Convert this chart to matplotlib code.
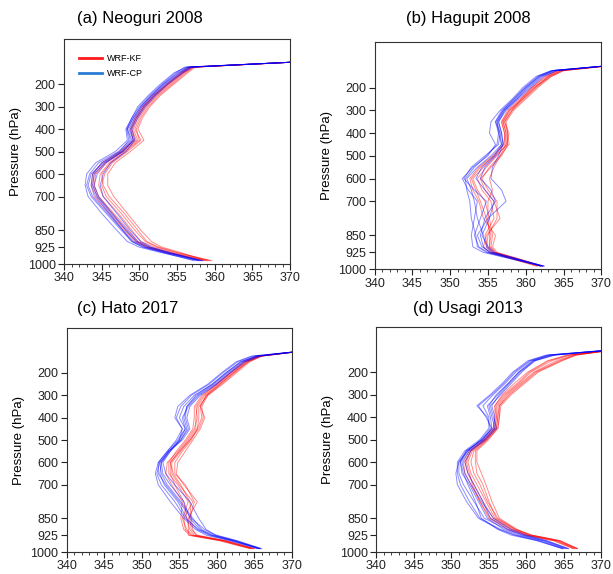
import matplotlib.pyplot as plt
from matplotlib.lines import Line2D
from matplotlib.ticker import MultipleLocator

plt.rcParams['font.family'] = ['Liberation Sans', 'DejaVu Sans']

# pressure levels of the profiles (hPa)
pres = [985, 950, 925, 900, 850, 775, 700, 650, 600, 550, 500, 450, 400, 350, 300, 250, 200, 150, 125, 100]
ptick = [200, 300, 400, 500, 600, 700, 850, 925, 1000]
titles = ["(a) Neoguri 2008", "(b) Hagupit 2008", "(c) Hato 2017", "(d) Usagi 2013"]

# equivalent potential temperature (K), one row per ensemble member
neoguri_kf = [
    [359.6, 355.0, 352.4, 350.8, 349.4, 347.6, 345.6, 345.0, 345.4, 346.4, 348.4, 350.2, 349.4, 350.0, 351.0, 352.4, 354.2, 356.0, 357.0, 372.0],
    [359.0, 354.2, 351.4, 349.8, 348.6, 346.6, 344.6, 344.0, 344.2, 345.6, 347.8, 349.6, 349.0, 349.6, 350.6, 352.0, 353.8, 355.6, 356.6, 372.0],
    [358.8, 355.6, 353.0, 351.6, 350.2, 348.4, 346.6, 345.8, 345.8, 346.8, 348.8, 350.6, 349.8, 350.4, 351.4, 352.8, 354.6, 356.4, 357.4, 372.0],
    [358.4, 353.8, 351.0, 349.4, 348.0, 346.0, 344.0, 343.6, 343.8, 345.0, 347.4, 349.2, 348.8, 349.4, 350.4, 351.8, 353.6, 355.4, 356.4, 372.0],
    [359.2, 354.6, 352.0, 350.2, 349.0, 347.2, 345.2, 344.6, 344.8, 346.0, 348.0, 349.8, 349.2, 349.8, 350.8, 352.2, 354.0, 355.8, 356.8, 372.0],
    [358.6, 354.0, 351.2, 349.6, 348.2, 346.4, 344.4, 343.8, 344.0, 345.4, 347.6, 349.4, 348.9, 349.6, 350.6, 352.0, 353.8, 355.8, 357.2, 372.0],
    [359.4, 355.2, 352.6, 351.0, 349.8, 348.0, 346.0, 345.2, 345.0, 346.2, 348.2, 350.0, 349.6, 350.2, 351.2, 352.6, 354.4, 356.2, 357.2, 372.0],
]
neoguri_cp = [
    [358.2, 353.6, 350.6, 349.0, 347.6, 345.6, 343.6, 343.0, 343.4, 344.6, 347.2, 348.8, 348.4, 349.2, 350.2, 351.6, 353.2, 355.2, 356.6, 372.0],
    [357.6, 353.0, 350.0, 348.4, 347.0, 345.0, 343.2, 342.8, 343.0, 344.2, 346.8, 348.4, 348.2, 349.0, 349.8, 351.2, 352.8, 354.6, 356.2, 372.0],
    [358.4, 354.2, 351.4, 349.8, 348.4, 346.4, 344.6, 344.0, 344.4, 345.6, 347.8, 349.2, 348.6, 349.4, 350.4, 351.8, 353.4, 355.4, 356.8, 372.0],
    [357.2, 353.2, 350.4, 349.0, 347.8, 346.0, 344.2, 343.6, 343.8, 345.0, 347.4, 348.6, 348.3, 349.0, 350.0, 351.4, 353.0, 354.8, 356.0, 372.0],
    [358.0, 354.0, 351.6, 350.2, 348.8, 347.0, 345.2, 344.8, 345.2, 346.2, 348.2, 349.4, 349.0, 349.8, 350.8, 352.2, 353.8, 355.8, 357.0, 372.0],
    [357.8, 353.4, 350.8, 349.2, 347.8, 345.8, 343.8, 343.2, 343.6, 345.2, 347.6, 349.0, 348.4, 349.2, 350.2, 351.6, 353.2, 355.0, 356.4, 372.0],
    [358.2, 353.8, 351.0, 349.6, 348.2, 346.2, 344.4, 343.8, 344.0, 345.4, 347.8, 349.2, 348.8, 349.6, 350.6, 352.0, 353.6, 355.6, 356.8, 372.0],
]
hagupit_kf = [
    [362.0, 358.6, 356.0, 355.4, 355.6, 355.2, 354.6, 353.6, 353.0, 354.4, 356.0, 357.6, 357.4, 357.0, 358.0, 359.6, 361.2, 363.0, 364.6, 372.0],
    [361.6, 358.0, 355.4, 354.8, 355.0, 356.2, 356.2, 355.0, 354.2, 355.2, 356.6, 357.8, 357.6, 357.2, 358.2, 359.8, 361.4, 363.2, 364.8, 372.0],
    [362.2, 358.8, 356.2, 355.6, 356.0, 354.4, 353.8, 353.0, 352.6, 353.8, 355.6, 357.2, 357.2, 356.8, 357.6, 359.2, 360.8, 362.8, 364.2, 372.0],
    [361.8, 358.2, 355.6, 355.0, 354.6, 355.8, 355.4, 354.2, 353.6, 354.8, 356.2, 357.4, 357.8, 357.2, 358.2, 359.4, 361.0, 363.4, 365.0, 372.0],
    [362.0, 358.4, 355.8, 355.2, 355.4, 354.8, 354.0, 353.4, 352.8, 354.0, 355.8, 357.0, 357.4, 357.0, 357.8, 359.4, 360.8, 362.6, 364.2, 372.0],
    [361.4, 357.8, 355.2, 354.4, 354.8, 356.6, 355.8, 354.6, 354.0, 355.4, 356.8, 357.6, 357.6, 357.4, 358.4, 360.0, 361.6, 363.4, 365.0, 372.0],
    [362.2, 358.6, 356.0, 355.2, 355.2, 355.0, 355.0, 355.6, 355.2, 355.8, 356.6, 357.4, 357.2, 356.8, 357.8, 359.6, 361.2, 363.0, 364.6, 372.0],
]
hagupit_cp = [
    [362.4, 358.0, 355.0, 353.8, 353.2, 354.0, 354.8, 353.2, 351.8, 352.8, 354.6, 356.4, 356.6, 356.2, 357.0, 358.6, 360.0, 361.8, 363.6, 372.0],
    [362.2, 357.6, 354.4, 353.0, 352.8, 353.2, 353.6, 352.4, 351.6, 353.0, 355.0, 356.0, 355.2, 355.4, 356.6, 358.2, 359.6, 361.4, 363.4, 372.0],
    [362.4, 358.4, 355.4, 354.2, 353.6, 355.0, 357.4, 356.8, 355.4, 355.6, 356.4, 357.0, 356.8, 356.4, 357.2, 358.8, 360.2, 362.0, 363.8, 372.0],
    [362.0, 358.2, 355.6, 354.8, 354.4, 353.6, 353.2, 352.8, 352.2, 353.6, 355.4, 356.8, 356.6, 356.0, 356.8, 358.4, 359.8, 361.6, 363.4, 372.0],
    [362.4, 358.6, 355.8, 355.0, 354.2, 355.2, 355.8, 354.6, 353.4, 354.2, 355.8, 356.8, 356.4, 356.2, 357.2, 358.8, 360.4, 362.2, 364.0, 372.0],
    [362.2, 357.8, 354.8, 353.6, 353.4, 352.8, 352.6, 352.2, 352.0, 353.2, 354.8, 356.2, 356.4, 356.0, 357.0, 358.4, 360.0, 361.8, 363.6, 372.0],
    [362.0, 358.2, 355.2, 354.4, 354.0, 354.6, 356.0, 355.4, 354.0, 354.6, 356.0, 357.0, 356.8, 356.4, 357.4, 359.0, 360.6, 362.4, 364.2, 372.0],
]
hato_kf = [
    [364.8, 361.0, 356.6, 355.8, 355.6, 356.8, 355.0, 354.0, 354.0, 355.2, 356.4, 357.6, 358.2, 358.0, 358.8, 360.6, 362.4, 364.2, 366.0, 372.0],
    [364.4, 360.4, 356.2, 356.2, 356.2, 357.4, 355.6, 354.6, 354.8, 355.8, 356.8, 357.8, 358.4, 357.8, 358.6, 360.4, 362.2, 364.0, 365.8, 372.0],
    [365.0, 361.2, 357.0, 356.4, 356.0, 355.6, 354.4, 353.8, 353.8, 355.0, 356.2, 357.2, 357.2, 357.4, 358.4, 360.2, 362.0, 364.0, 365.6, 372.0],
    [364.6, 360.8, 356.8, 356.0, 355.4, 356.2, 354.8, 353.6, 353.6, 354.6, 355.8, 356.8, 357.0, 357.0, 358.0, 360.0, 361.8, 363.6, 365.4, 372.0],
    [365.0, 361.4, 357.4, 356.6, 356.4, 357.0, 355.8, 354.4, 354.4, 355.4, 356.6, 357.4, 357.6, 357.6, 358.8, 360.8, 362.6, 364.4, 366.0, 372.0],
    [364.6, 360.6, 356.4, 355.6, 355.2, 355.4, 354.0, 353.2, 353.4, 354.8, 356.0, 357.0, 357.4, 357.2, 358.2, 360.0, 361.8, 363.8, 365.6, 372.0],
    [364.8, 361.0, 357.2, 356.8, 356.6, 356.4, 355.2, 354.2, 353.8, 355.0, 356.4, 357.4, 358.0, 357.8, 358.6, 360.4, 362.2, 364.2, 365.8, 372.0],
]
hato_cp = [
    [365.8, 362.4, 359.4, 357.6, 355.8, 354.4, 352.6, 352.0, 352.4, 353.6, 355.0, 355.4, 354.6, 355.2, 356.6, 359.0, 360.8, 362.8, 364.8, 372.0],
    [366.0, 362.8, 360.0, 358.4, 356.6, 355.0, 353.2, 352.2, 352.2, 353.4, 354.8, 355.8, 355.0, 355.6, 357.0, 359.4, 361.2, 363.2, 365.2, 372.0],
    [365.6, 362.0, 359.0, 357.4, 356.0, 354.8, 353.0, 352.4, 352.6, 353.8, 355.2, 356.0, 355.6, 356.0, 357.4, 359.6, 361.4, 363.4, 365.4, 372.0],
    [365.8, 362.6, 359.8, 358.6, 357.6, 356.4, 354.4, 353.2, 352.8, 353.8, 355.0, 355.8, 355.4, 356.2, 357.6, 359.8, 361.6, 363.6, 365.6, 372.0],
    [365.4, 361.8, 358.6, 357.2, 355.6, 353.8, 352.2, 351.8, 352.2, 353.4, 354.6, 355.4, 354.4, 354.8, 356.4, 358.8, 360.6, 362.6, 364.6, 372.0],
    [365.8, 362.2, 359.2, 357.8, 356.4, 355.6, 353.8, 352.8, 352.6, 353.6, 355.4, 356.4, 356.0, 356.4, 357.8, 360.0, 361.8, 363.8, 365.8, 372.0],
    [365.6, 362.4, 359.6, 358.0, 356.8, 355.2, 353.4, 352.6, 352.4, 353.6, 355.2, 356.2, 355.8, 356.0, 357.2, 359.4, 361.2, 363.2, 365.2, 372.0],
]
usagi_kf = [
    [366.8, 364.6, 360.8, 358.6, 356.2, 354.8, 353.8, 353.0, 352.6, 353.0, 354.8, 356.0, 356.2, 356.4, 357.6, 359.4, 361.2, 364.4, 366.4, 372.0],
    [366.4, 364.0, 360.2, 358.2, 355.6, 354.2, 353.0, 352.2, 351.8, 352.6, 354.6, 355.8, 356.0, 356.0, 357.2, 359.0, 360.6, 363.4, 365.8, 372.0],
    [366.8, 364.4, 360.6, 358.8, 356.4, 355.4, 354.6, 354.0, 353.4, 353.4, 355.0, 356.2, 356.4, 356.6, 358.0, 359.8, 361.6, 364.8, 366.6, 372.0],
    [366.2, 363.6, 359.8, 357.6, 355.0, 353.8, 352.6, 351.8, 351.6, 352.4, 354.4, 355.6, 355.8, 355.8, 356.8, 358.4, 360.2, 362.8, 365.4, 372.0],
    [366.6, 364.2, 360.4, 358.4, 355.8, 354.6, 353.4, 352.6, 352.2, 352.8, 354.6, 356.0, 356.2, 356.2, 357.4, 359.2, 361.0, 364.0, 366.2, 372.0],
    [366.4, 363.8, 360.0, 358.0, 355.2, 353.8, 352.8, 352.4, 352.0, 352.6, 354.4, 355.8, 356.0, 355.8, 357.0, 358.8, 360.4, 363.0, 365.6, 372.0],
    [366.8, 364.4, 360.6, 358.6, 356.0, 355.0, 354.2, 353.4, 353.2, 353.2, 354.8, 356.2, 356.4, 356.4, 357.8, 359.6, 361.4, 364.6, 366.6, 372.0],
]
usagi_cp = [
    [365.4, 362.4, 359.4, 357.4, 354.4, 353.0, 351.6, 351.0, 351.0, 352.0, 354.2, 355.4, 354.6, 353.6, 355.4, 357.0, 358.4, 360.4, 362.8, 372.0],
    [365.0, 361.8, 358.6, 356.6, 353.8, 352.4, 351.2, 350.8, 350.8, 351.8, 353.8, 355.0, 355.0, 354.2, 355.6, 357.2, 358.6, 360.6, 363.2, 372.0],
    [365.6, 362.8, 360.0, 358.0, 355.6, 354.0, 352.6, 351.8, 351.4, 352.4, 354.4, 355.8, 355.4, 355.0, 356.0, 357.6, 359.0, 361.0, 363.6, 372.0],
    [364.8, 361.4, 358.0, 356.2, 354.0, 353.2, 352.2, 351.6, 351.2, 352.2, 354.0, 355.6, 355.8, 355.4, 356.4, 357.8, 359.2, 361.2, 363.8, 372.0],
    [365.2, 362.2, 359.0, 357.0, 354.8, 353.6, 352.4, 351.4, 351.2, 352.0, 354.2, 355.4, 355.2, 354.8, 356.2, 357.6, 359.0, 360.8, 363.0, 372.0],
    [365.6, 362.6, 359.6, 357.6, 355.2, 354.2, 353.0, 352.2, 351.8, 352.6, 354.6, 356.0, 355.6, 355.2, 356.6, 358.0, 359.4, 361.0, 363.4, 372.0],
    [364.8, 361.6, 358.4, 356.4, 353.6, 352.0, 350.8, 350.6, 351.0, 352.2, 354.0, 355.2, 354.8, 353.4, 355.2, 356.8, 358.2, 360.2, 362.6, 372.0],
]

kf_all = [neoguri_kf, hagupit_kf, hato_kf, usagi_kf]
cp_all = [neoguri_cp, hagupit_cp, hato_cp, usagi_cp]

fig = plt.figure(figsize=(6.13, 5.74), dpi=100)

# axes boxes in figure fraction [left, bottom, width, height]
boxes = [[0.1044, 0.540, 0.369, 0.392],
         [0.611, 0.5305, 0.370, 0.396],
         [0.109, 0.0383, 0.367, 0.390],
         [0.614, 0.0383, 0.367, 0.392]]
# title anchor (left x, center y) in figure fraction
title_pos = [(0.126, 0.968), (0.663, 0.967), (0.126, 0.463), (0.673, 0.462)]

for i in range(4):
    ax = fig.add_axes(boxes[i])
    for prof in kf_all[i]:
        ax.plot(prof, pres, color='#ff0000', lw=0.7, alpha=0.45)
    for prof in cp_all[i]:
        ax.plot(prof, pres, color='#0000ff', lw=0.7, alpha=0.45)
    ax.set_xlim(340, 370)
    ax.set_ylim(1000, 0)
    ax.set_yticks(ptick)
    ax.set_yticklabels([str(p) for p in ptick])
    ax.set_xticks([340, 345, 350, 355, 360, 365, 370])
    ax.xaxis.set_minor_locator(MultipleLocator(1))
    ax.tick_params(axis='both', which='major', direction='out', length=4, width=0.8,
                   labelsize=9, pad=2, colors='#222222')
    ax.tick_params(axis='x', which='minor', direction='out', length=2, width=0.6,
                   colors='#222222')
    ax.set_ylabel('Pressure (hPa)', fontsize=9.5, labelpad=4)
    for s in ax.spines.values():
        s.set_linewidth(0.8)
        s.set_color('#333333')
    fig.text(title_pos[i][0], title_pos[i][1], titles[i], fontsize=12,
             ha='left', va='center')
    if i == 0:
        handles = [Line2D([0], [0], color='#ff1a1a', lw=2),
                   Line2D([0], [0], color='#2a7bd5', lw=2)]
        ax.legend(handles, ['WRF-KF', 'WRF-CP'], loc='upper left',
                  bbox_to_anchor=(0.03, 0.97), frameon=False, fontsize=6.5,
                  handlelength=2.6, handletextpad=0.5, labelspacing=0.65)

fig.savefig('out.png', dpi=100)
